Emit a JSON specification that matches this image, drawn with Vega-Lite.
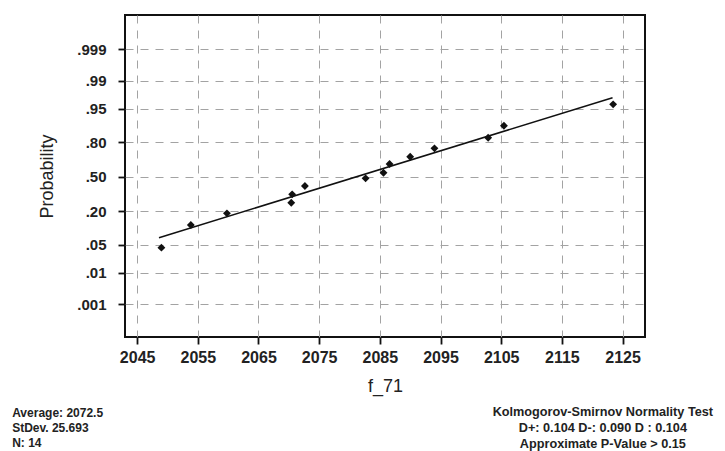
{
  "$schema": "https://vega.github.io/schema/vega-lite/v6.json",
  "autosize": "none",
  "padding": {"left": 125, "top": 15, "right": 80, "bottom": 114},
  "width": 520,
  "height": 322,
  "background": "white",
  "datasets": {
    "points": [
      {"f_71": 2049.0, "z": -1.72},
      {"f_71": 2053.85, "z": -1.17},
      {"f_71": 2059.8, "z": -0.887},
      {"f_71": 2070.4, "z": -0.63},
      {"f_71": 2070.55, "z": -0.427},
      {"f_71": 2072.65, "z": -0.225},
      {"f_71": 2082.65, "z": -0.039},
      {"f_71": 2085.6, "z": 0.097},
      {"f_71": 2086.6, "z": 0.308},
      {"f_71": 2090.0, "z": 0.485},
      {"f_71": 2094.0, "z": 0.688},
      {"f_71": 2102.85, "z": 0.945},
      {"f_71": 2105.45, "z": 1.236},
      {"f_71": 2123.45, "z": 1.755}
    ],
    "fit": [
      {"f_71": 2048.6, "z": -1.478},
      {"f_71": 2123.35, "z": 1.915}
    ],
    "summary": [
      {"note": "Average: 2072.5\nStDev. 25.693\nN: 14"}
    ],
    "test": [
      {"note": "Kolmogorov-Smirnov Normality Test\nD+: 0.104  D-: 0.090  D : 0.104\nApproximate P-Value > 0.15"}
    ]
  },
  "layer": [
    {
      "data": {"name": "fit"},
      "mark": {"type": "line", "color": "#111", "strokeWidth": 1.6},
      "encoding": {
        "x": {
          "field": "f_71",
          "type": "quantitative",
          "scale": {"domain": [2043, 2128.7], "nice": false, "zero": false},
          "axis": {
            "values": [2045, 2055, 2065, 2075, 2085, 2095, 2105, 2115, 2125],
            "format": "d",
            "title": "f_71",
            "titlePadding": 12
          }
        },
        "y": {
          "field": "z",
          "type": "quantitative",
          "scale": {"domain": [-3.885, 3.92], "nice": false, "zero": false},
          "axis": {
            "values": [-3.0902, -2.3263, -1.6449, -0.8416, 0, 0.8416, 1.6449, 2.3263, 3.0902],
            "labelExpr": "datum.value > 3 ? '.999' : datum.value > 2 ? '.99' : datum.value > 1.5 ? '.95' : datum.value > 0.5 ? '.80' : datum.value > -0.5 ? '.50' : datum.value > -1 ? '.20' : datum.value > -2 ? '.05' : datum.value > -3 ? '.01' : '.001'",
            "labelPadding": 12,
            "title": "Probability",
            "titlePadding": 20
          }
        }
      }
    },
    {
      "data": {"name": "points"},
      "mark": {"type": "point", "shape": "diamond", "filled": true, "color": "#111", "size": 62, "opacity": 1},
      "encoding": {
        "x": {"field": "f_71", "type": "quantitative"},
        "y": {"field": "z", "type": "quantitative"}
      }
    },
    {
      "data": {"name": "summary"},
      "mark": {"type": "text", "align": "left", "baseline": "alphabetic", "lineBreak": "\n", "lineHeight": 14.7, "font": "Liberation Sans", "fontSize": 12, "fontWeight": "bold", "color": "#222"},
      "encoding": {
        "x": {"datum": 2024.4, "type": "quantitative"},
        "y": {"datum": -5.83, "type": "quantitative"},
        "text": {"field": "note"}
      }
    },
    {
      "data": {"name": "test"},
      "mark": {"type": "text", "align": "center", "baseline": "alphabetic", "lineBreak": "\n", "lineHeight": 16, "font": "Liberation Sans", "fontSize": 12.7, "fontWeight": "bold", "color": "#222"},
      "encoding": {
        "x": {"datum": 2121.75, "type": "quantitative"},
        "y": {"datum": -5.8, "type": "quantitative"},
        "text": {"field": "note"}
      }
    }
  ],
  "config": {
    "view": {"stroke": "#111", "strokeWidth": 2},
    "axis": {
      "domain": false,
      "grid": true,
      "gridColor": "#a3a3a3",
      "gridDash": [8, 7],
      "gridWidth": 1,
      "ticks": true,
      "tickColor": "#111",
      "tickWidth": 1.8,
      "tickSize": 7,
      "labelFont": "Liberation Sans",
      "labelFontSize": 15,
      "labelFontWeight": "bold",
      "labelColor": "#222",
      "labelPadding": 5,
      "titleFont": "Liberation Sans",
      "titleFontSize": 18,
      "titleFontWeight": "normal",
      "titleColor": "#222"
    },
    "axisX": {"labelFontSize": 16}
  }
}
